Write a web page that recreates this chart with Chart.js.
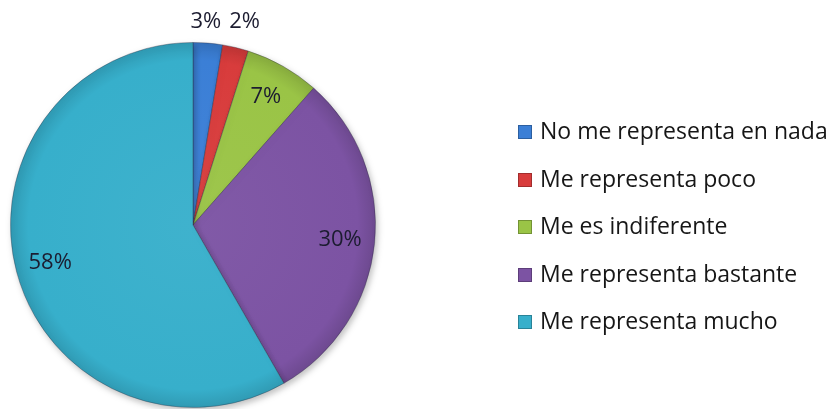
<!DOCTYPE html>
<html>
<head>
<meta charset="utf-8">
<script src="https://cdn.jsdelivr.net/npm/chart.js@4.4.0/dist/chart.umd.min.js"></script>
<style>
  html, body { margin: 0; padding: 0; background: #fff; }
  #wrap { position: relative; width: 827px; height: 409px; }
  #legend { position: absolute; left: 518px; top: 112px; font-family: "Open Sans", Lato, sans-serif; font-size: 23px; color: #161616; }
  #legend div { height: 47.5px; line-height: 36px; white-space: nowrap; }
  #legend span.box { display: inline-block; width: 14px; height: 14px; margin-right: 8px; vertical-align: 0px; border: 1px solid rgba(0,0,0,0.25); box-sizing: border-box; }
</style>
</head>
<body>
<div id="wrap">
  <canvas id="pieChart" width="827" height="409"></canvas>
  <div id="legend"></div>
</div>
<script>
const categories = ['No me representa en nada', 'Me representa poco', 'Me es indiferente', 'Me representa bastante', 'Me representa mucho'];
const percents = [2.6, 2.3, 6.6, 30.2, 58.3];
const colors = ['#3b7fd6', '#d83c3c', '#9ac446', '#7c53a3', '#37afcb'];

// shade a hex colour by a factor
function shade(hex, f) {
  const n = parseInt(hex.slice(1), 16);
  let r = n >> 16, g = (n >> 8) & 255, b = n & 255;
  if (f > 0) { r += (255 - r) * f; g += (255 - g) * f; b += (255 - b) * f; }
  else { r *= 1 + f; g *= 1 + f; b *= 1 + f; }
  return `rgb(${Math.round(r)},${Math.round(g)},${Math.round(b)})`;
}

function sliceFill(context) {
  const chart = context.chart;
  const area = chart.chartArea;
  const base = colors[context.dataIndex];
  if (!area) return base;
  const cx = (area.left + area.right) / 2, cy = (area.top + area.bottom) / 2;
  const r = Math.min(area.right - area.left, area.bottom - area.top) / 2;
  const g = chart.ctx.createRadialGradient(cx, cy, 0, cx, cy, r);
  g.addColorStop(0, shade(base, 0.04));
  g.addColorStop(0.9, base);
  g.addColorStop(1, shade(base, -0.12));
  return g;
}

const shadowPlugin = {
  id: 'shadow',
  beforeDatasetDraw(chart) {
    const ctx = chart.ctx;
    ctx.save();
    ctx.shadowColor = 'rgba(0,0,0,0.25)';
    ctx.shadowBlur = 6;
    ctx.shadowOffsetX = 2;
    ctx.shadowOffsetY = 3;
  },
  afterDatasetDraw(chart) {
    chart.ctx.restore();
  }
};

const labelPlugin = {
  id: 'pctLabels',
  afterDatasetsDraw(chart) {
    const ctx = chart.ctx;
    const arcs = chart.getDatasetMeta(0).data;
    ctx.save();
    ctx.font = '22px "Open Sans", Lato, sans-serif';
    ctx.fillStyle = '#1c1c30';
    ctx.textAlign = 'center';
    ctx.textBaseline = 'middle';
    const items = arcs.map((arc, i) => {
      const mid = (arc.startAngle + arc.endAngle) / 2;
      const outside = percents[i] < 5;
      const d = arc.outerRadius * (outside ? 1.12 : 0.81);
      const text = Math.round(percents[i]) + '%';
      return { text, outside, w: ctx.measureText(text).width,
        x: arc.x + Math.cos(mid) * d, y: arc.y + Math.sin(mid) * d };
    });
    // push neighbouring outside labels apart so they don't overlap
    for (let i = 0; i < items.length - 1; i++) {
      const a = items[i], b = items[i + 1];
      if (!a.outside || !b.outside) continue;
      const need = (a.w + b.w) / 2 + 8 - (b.x - a.x);
      if (need > 0) { a.x -= need / 2; b.x += need / 2; }
      a.y = b.y = Math.min(a.y, b.y);
    }
    items.forEach(it => ctx.fillText(it.text, it.x, it.y));
    ctx.restore();
  }
};

new Chart(document.getElementById('pieChart'), {
  type: 'pie',
  data: {
    labels: categories,
    datasets: [{
      data: percents,
      backgroundColor: sliceFill,
      borderColor: 'rgba(40,40,60,0.35)',
      borderWidth: 1
    }]
  },
  options: {
    responsive: false,
    animation: false,
    layout: { padding: { left: 10, top: 42, bottom: 1, right: 451 } },
    plugins: { legend: { display: false }, tooltip: { enabled: false } }
  },
  plugins: [shadowPlugin, labelPlugin]
});

const legend = document.getElementById('legend');
categories.forEach((name, i) => {
  const row = document.createElement('div');
  row.innerHTML = `<span class="box" style="background:${colors[i]}"></span>${name}`;
  legend.appendChild(row);
});
</script>
</body>
</html>
